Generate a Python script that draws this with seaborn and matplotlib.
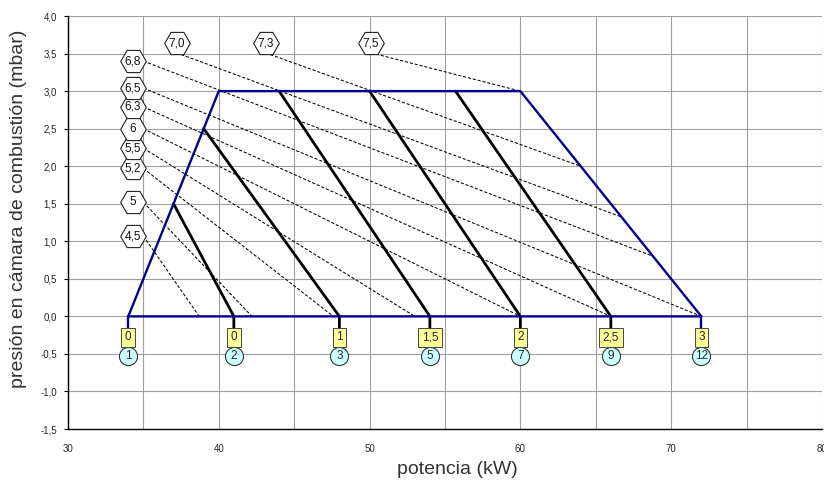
import matplotlib
matplotlib.use("Agg")
import matplotlib.pyplot as plt
import seaborn as sns
import pandas as pd
from matplotlib.ticker import MultipleLocator, FuncFormatter

# ---------------- data ----------------
envelope_x = [34, 40, 60, 72, 34]
envelope_y = [0.0, 3.0, 3.0, 0.0, 0.0]

iso_top_x = [37, 39, 44, 50, 55.7]
iso_top_y = [1.5, 2.5, 3.0, 3.0, 3.0]
iso_bot_x = [41, 48, 54, 60, 66]

bottom_x = [34, 41, 48, 54, 60, 66, 72]
box_labels = ["0", "0", "1", "1,5", "2", "2,5", "3"]
circle_labels = ["1", "2", "3", "5", "7", "9", "12"]

dash_labels = ["4,5", "5", "5,2", "5,5", "6", "6,3", "6,5", "6,8", "7,0", "7,3", "7,5"]
label_x = [34.3, 34.3, 34.3, 34.3, 34.3, 34.3, 34.3, 34.3, 37.2, 43.1, 50.1]
label_y = [1.07, 1.52, 1.97, 2.24, 2.50, 2.79, 3.04, 3.40, 3.64, 3.64, 3.64]
start_x = [35.0, 35.0, 35.0, 35.0, 35.0, 35.0, 35.0, 35.0, 37.2, 43.1, 50.1]
start_y = [1.07, 1.52, 1.97, 2.24, 2.50, 2.79, 3.04, 3.40, 3.51, 3.51, 3.51]
end_x = [38.7, 42.2, 47.6, 53.0, 60.0, 66.0, 72.0, 68.8, 66.7, 64.0, 60.0]
end_y = [0.0, 0.0, 0.0, 0.0, 0.0, 0.0, 0.0, 0.8, 1.325, 2.0, 3.0]

box_y = -0.28
circle_y = -0.53
stem_y = -0.16

# ---------------- style ----------------
sns.set_theme(style="white")
plt.rcParams['font.family'] = ['Liberation Sans', 'DejaVu Sans']

fig = plt.figure(figsize=(8.24, 4.83), dpi=100)
ax = fig.add_axes([0.0825, 0.1118, 0.915, 0.855])

NAVY = "#00008b"

# dashed lines
for sx, sy, ex, ey in zip(start_x, start_y, end_x, end_y):
    d = pd.DataFrame({"x": [sx, ex], "y": [sy, ey]})
    sns.lineplot(data=d, x="x", y="y", ax=ax, color="black", lw=0.75,
                 linestyle=(0, (3, 1.8)), sort=False, estimator=None, zorder=3)

# black iso lines + stems
for tx, ty, bx in zip(iso_top_x, iso_top_y, iso_bot_x):
    d = pd.DataFrame({"x": [tx, bx, bx], "y": [ty, 0.0, stem_y]})
    sns.lineplot(data=d, x="x", y="y", ax=ax, color="black", lw=2.0,
                 sort=False, estimator=None, zorder=4)

# envelope
d = pd.DataFrame({"x": envelope_x, "y": envelope_y})
sns.lineplot(data=d, x="x", y="y", ax=ax, color=NAVY, lw=1.7,
             sort=False, estimator=None, zorder=5)
for bx in (bottom_x[0], bottom_x[-1]):
    d = pd.DataFrame({"x": [bx, bx], "y": [0.0, stem_y]})
    sns.lineplot(data=d, x="x", y="y", ax=ax, color=NAVY, lw=1.7,
                 sort=False, estimator=None, zorder=5)

# hexagon labels
ax.scatter(label_x, label_y, marker="H", s=340, facecolor="white",
           edgecolor="#222222", linewidths=0.8, zorder=6)
for lx, ly, t in zip(label_x, label_y, dash_labels):
    ax.text(lx, ly, t, ha="center", va="center", fontsize=8.5, zorder=7,
            color="#111111")

# bottom labels
for bx, bl in zip(bottom_x, box_labels):
    ax.text(bx, box_y, bl, ha="center", va="center", fontsize=8.5, zorder=7,
            bbox=dict(boxstyle="square,pad=0.3", fc="#ffff99", ec="#444444", lw=0.7))
ax.scatter(bottom_x, [circle_y] * len(bottom_x), s=170, facecolor="#ccffff",
           edgecolor="#333333", linewidths=0.8, zorder=6)
for bx, cl in zip(bottom_x, circle_labels):
    ax.text(bx, circle_y, cl, ha="center", va="center", fontsize=8.5, zorder=7)

# axes
ax.set_xlim(30, 80)
ax.set_ylim(-1.5, 4.0)
ax.xaxis.set_major_locator(MultipleLocator(10))
ax.xaxis.set_minor_locator(MultipleLocator(5))
ax.yaxis.set_major_locator(MultipleLocator(0.5))
fmt_y = FuncFormatter(lambda v, p: f"{v:.1f}".replace(".", ","))
ax.yaxis.set_major_formatter(fmt_y)
ax.xaxis.set_major_formatter(FuncFormatter(lambda v, p: f"{v:.0f}"))
ax.grid(True, which="both", color="#a0a0a0", lw=0.8)
ax.set_axisbelow(True)
for s in ("top", "right"):
    ax.spines[s].set_visible(False)
for s in ("left", "bottom"):
    ax.spines[s].set_color("black")
    ax.spines[s].set_linewidth(1.0)
ax.tick_params(axis="both", which="major", labelsize=7, length=3, width=0.8,
               color="black", left=True, bottom=False, pad=5)
ax.tick_params(axis="x", pad=8)
ax.tick_params(axis="both", which="minor", length=0)
ax.set_xlabel("potencia (kW)", fontsize=14, color="#333333")
ax.set_ylabel("presión en cámara de combustión (mbar)", fontsize=14,
              color="#333333")
ax.xaxis.set_label_coords(0.517, -0.077)
ax.yaxis.set_label_coords(-0.054, 0.533)

fig.savefig("out.png", dpi=100)
